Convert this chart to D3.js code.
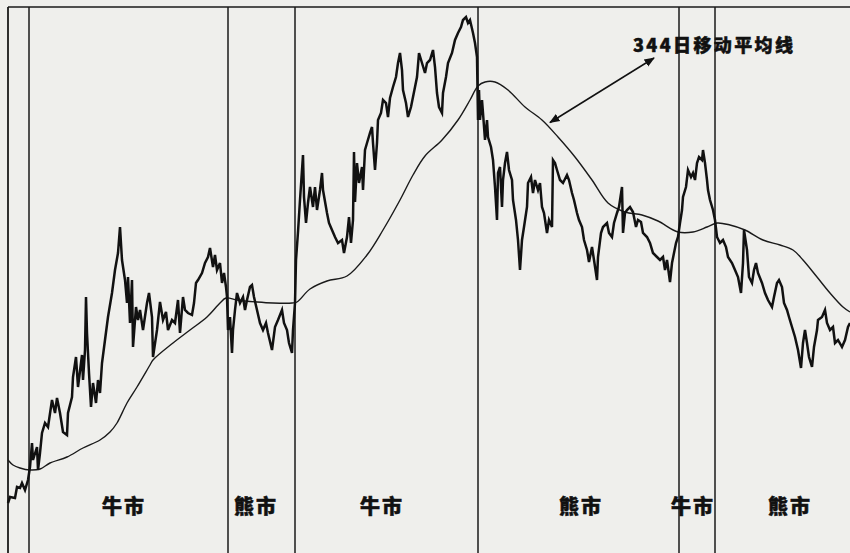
<!DOCTYPE html>
<html>
<head>
<meta charset="utf-8">
<script src="https://cdn.jsdelivr.net/npm/d3@7"></script>
<style>
  body { margin: 0; background: #efefec; }
  svg { display: block; }
  .label { font-family: "Noto Sans CJK SC", sans-serif; font-weight: 900; fill: #111; stroke: #111; stroke-width: 0.5; }
</style>
</head>
<body>
<script>
// Daily index level: [trading day, level]
const prices = [
  [0, 90], [4, 102], [14, 100], [18, 122], [24, 120], [28, 130], [34, 116], [40, 136],
  [44, 162], [48, 210], [50, 176], [58, 202], [60, 156], [64, 190], [68, 230], [74, 250],
  [80, 242], [88, 296], [94, 270], [98, 300], [104, 270], [110, 232], [118, 226], [120, 270],
  [128, 302], [130, 342], [136, 382], [140, 322], [148, 386], [150, 336], [154, 396], [156, 502],
  [158, 430], [162, 350], [166, 282], [170, 330], [176, 290], [180, 336], [184, 310], [188, 370],
  [194, 416], [200, 462], [208, 510], [214, 556], [220, 590], [224, 642], [228, 576], [234, 536],
  [238, 490], [240, 542], [244, 450], [248, 536], [250, 402], [256, 482], [260, 456], [264, 476],
  [270, 436], [278, 490], [282, 510], [288, 462], [290, 382], [298, 436], [304, 492], [310, 456],
  [316, 472], [320, 436], [328, 456], [334, 450], [340, 496], [344, 430], [350, 502], [354, 476],
  [360, 470], [368, 466], [372, 490], [376, 530], [380, 536], [388, 550], [394, 570], [400, 582],
  [404, 600], [410, 562], [414, 586], [418, 556], [424, 570], [428, 530], [432, 550], [436, 522],
  [438, 502], [440, 436], [444, 462], [448, 390], [450, 436], [454, 476], [458, 510], [464, 490],
  [470, 502], [474, 476], [478, 496], [484, 522], [488, 526], [492, 502], [498, 476], [504, 450],
  [510, 436], [516, 450], [520, 430], [528, 396], [534, 442], [540, 456], [548, 476], [552, 450],
  [558, 436], [562, 410], [568, 390], [570, 436], [574, 490], [576, 576], [580, 632], [584, 696],
  [590, 786], [592, 702], [596, 650], [600, 690], [604, 722], [610, 682], [614, 722], [618, 676],
  [624, 716], [628, 750], [630, 716], [638, 670], [642, 650], [648, 636], [654, 622], [660, 610],
  [668, 616], [672, 590], [678, 622], [682, 662], [686, 610], [690, 656], [692, 792], [694, 692],
  [698, 770], [702, 730], [708, 762], [710, 716], [714, 796], [718, 810], [724, 830], [728, 842],
  [730, 810], [734, 756], [738, 810], [740, 856], [746, 870], [750, 896], [756, 890], [760, 862],
  [764, 900], [770, 922], [776, 942], [780, 970], [784, 990], [788, 956], [790, 916], [796, 890],
  [800, 862], [806, 882], [810, 902], [818, 942], [822, 990], [828, 970], [834, 950], [838, 970],
  [844, 976], [850, 996], [854, 962], [858, 910], [862, 882], [868, 870], [870, 910], [876, 942],
  [880, 970], [888, 990], [894, 1016], [900, 1030], [906, 1042], [910, 1056], [916, 1062], [920, 1050],
  [924, 1056], [930, 1030], [934, 1010], [938, 982], [940, 856], [942, 916], [944, 856], [948, 896],
  [950, 870], [954, 816], [958, 856], [960, 822], [966, 802], [970, 776], [974, 722], [978, 656],
  [980, 750], [984, 762], [988, 682], [990, 736], [994, 770], [998, 792], [1002, 756], [1008, 736],
  [1010, 696], [1016, 656], [1020, 616], [1024, 556], [1028, 616], [1032, 642], [1038, 682], [1040, 730],
  [1046, 742], [1050, 710], [1054, 736], [1060, 716], [1064, 730], [1068, 682], [1072, 670], [1078, 630],
  [1082, 656], [1088, 642], [1090, 776], [1094, 770], [1098, 756], [1104, 736], [1110, 730], [1118, 746],
  [1122, 736], [1128, 710], [1132, 696], [1138, 670], [1142, 656], [1148, 642], [1152, 616], [1158, 596],
  [1162, 572], [1168, 602], [1172, 576], [1178, 536], [1180, 582], [1186, 630], [1190, 642], [1198, 650],
  [1202, 630], [1208, 622], [1212, 650], [1218, 670], [1222, 682], [1228, 722], [1230, 630], [1234, 670],
  [1238, 676], [1244, 682], [1250, 672], [1256, 642], [1260, 656], [1266, 652], [1270, 630], [1278, 622],
  [1284, 610], [1290, 590], [1298, 582], [1304, 576], [1310, 582], [1314, 556], [1318, 576], [1324, 532],
  [1328, 570], [1332, 590], [1336, 610], [1340, 622], [1344, 650], [1348, 676], [1350, 702], [1356, 722],
  [1360, 756], [1366, 742], [1370, 750], [1374, 736], [1378, 770], [1382, 782], [1388, 776], [1390, 796],
  [1394, 770], [1398, 736], [1400, 716], [1404, 696], [1410, 676], [1414, 656], [1418, 622], [1424, 610],
  [1430, 616], [1436, 602], [1440, 582], [1448, 570], [1454, 556], [1460, 542], [1466, 510], [1470, 570],
  [1472, 636], [1478, 596], [1482, 542], [1488, 530], [1492, 556], [1496, 570], [1500, 550], [1508, 530],
  [1514, 510], [1520, 496], [1528, 482], [1532, 502], [1538, 530], [1542, 536], [1548, 522], [1552, 490],
  [1558, 476], [1562, 462], [1568, 442], [1574, 422], [1580, 396], [1586, 360], [1590, 410], [1594, 436],
  [1598, 410], [1602, 382], [1608, 362], [1612, 402], [1618, 436], [1620, 456], [1628, 462], [1634, 476],
  [1638, 450], [1644, 436], [1650, 442], [1654, 410], [1660, 416], [1668, 402], [1674, 416], [1680, 442],
  [1684, 450]
]

// 344-day moving average: [trading day, level]
const movingAvg = [
  [0, 176], [10, 166], [24, 160], [44, 156], [64, 158], [84, 170], [118, 182], [150, 200],
  [184, 216], [204, 232], [218, 250], [238, 290], [258, 322], [284, 366], [290, 376], [330, 410],
  [364, 436], [398, 462], [424, 490], [436, 500], [458, 496], [498, 492], [530, 490], [568, 490],
  [578, 492], [604, 518], [638, 534], [678, 544], [718, 586], [750, 636], [784, 696], [810, 746],
  [834, 784], [868, 816], [900, 856], [924, 896], [940, 924], [954, 932], [974, 932], [1000, 916],
  [1034, 882], [1068, 856], [1100, 822], [1134, 782], [1168, 736], [1200, 690], [1234, 672], [1268, 666],
  [1300, 654], [1340, 632], [1370, 632], [1398, 642], [1418, 650], [1444, 646], [1474, 636], [1510, 616],
  [1544, 606], [1570, 596], [1590, 576], [1618, 542], [1644, 510], [1670, 482], [1684, 472]
]

// Bull / bear turning points (trading day)
const turns = [42, 440, 574, 940, 1342, 1414]

// Phase labels at their centre day
const phaseDays = [232, 496, 748, 1146, 1370, 1564]
const phaseNames = ['牛市', '熊市', '牛市', '熊市', '牛市', '熊市']

const maLabel = '344日移动平均线'
const maPointerDay = 1084

const width = 850
const height = 553

const svg = d3.select('body')
  .append('svg')
  .attr('width', width)
  .attr('height', height)

const xScale = d3.scaleLinear()
  .domain([0, 1684])
  .range([8, 850])
const yScale = d3.scaleLinear()
  .domain([0, 1096])
  .range([548, 0])

// Frame: top and left
svg.append('line')
  .attr('x1', 8).attr('x2', width)
  .attr('y1', 7).attr('y2', 7)
  .attr('stroke', '#1a1a1a')
  .attr('stroke-width', 1.6)
svg.append('line')
  .attr('x1', 8).attr('x2', 8)
  .attr('y1', 7).attr('y2', height)
  .attr('stroke', '#1a1a1a')
  .attr('stroke-width', 1.8)

// Turning-point lines
svg.selectAll('.turn')
  .data(turns)
  .enter()
  .append('line')
  .attr('class', 'turn')
  .attr('x1', d => xScale(d))
  .attr('x2', d => xScale(d))
  .attr('y1', 7)
  .attr('y2', height)
  .attr('stroke', '#1a1a1a')
  .attr('stroke-width', 1.5)

// Moving average
svg.append('path')
  .datum(movingAvg)
  .attr('d', d3.line().x(d => xScale(d[0])).y(d => yScale(d[1])).curve(d3.curveCatmullRom))
  .attr('fill', 'none')
  .attr('stroke', '#1a1a1a')
  .attr('stroke-width', 1.4)

// Price
svg.append('path')
  .datum(prices)
  .attr('d', d3.line().x(d => xScale(d[0])).y(d => yScale(d[1])))
  .attr('fill', 'none')
  .attr('stroke', '#111')
  .attr('stroke-width', 2.5)
  .attr('stroke-linejoin', 'miter')

// Phase labels
svg.selectAll('.phase')
  .data(phaseDays)
  .enter()
  .append('text')
  .attr('class', 'label phase')
  .attr('x', d => xScale(d))
  .attr('y', 514)
  .attr('text-anchor', 'middle')
  .attr('font-size', 20)
  .attr('letter-spacing', 2)
  .text((d, i) => phaseNames[i])

// Moving average annotation
svg.append('defs')
  .append('marker')
  .attr('id', 'head')
  .attr('viewBox', '0 0 10 10')
  .attr('refX', 9)
  .attr('refY', 5)
  .attr('markerWidth', 7)
  .attr('markerHeight', 7)
  .attr('orient', 'auto-start-reverse')
  .append('path')
  .attr('d', 'M0,1 L10,5 L0,9 Z')
  .attr('fill', '#111')

const maAt = d3.scaleLinear()
  .domain(movingAvg.map(d => d[0]))
  .range(movingAvg.map(d => d[1]))

svg.append('line')
  .attr('x1', 654)
  .attr('y1', 58)
  .attr('x2', xScale(maPointerDay))
  .attr('y2', yScale(maAt(maPointerDay)) - 6)
  .attr('stroke', '#111')
  .attr('stroke-width', 1.5)
  .attr('marker-start', 'url(#head)')
  .attr('marker-end', 'url(#head)')

svg.append('text')
  .attr('class', 'label')
  .attr('x', 633)
  .attr('y', 52)
  .attr('font-size', 18)
  .attr('textLength', 160)
  .attr('lengthAdjust', 'spacing')
  .text(maLabel)
</script>
</body>
</html>
